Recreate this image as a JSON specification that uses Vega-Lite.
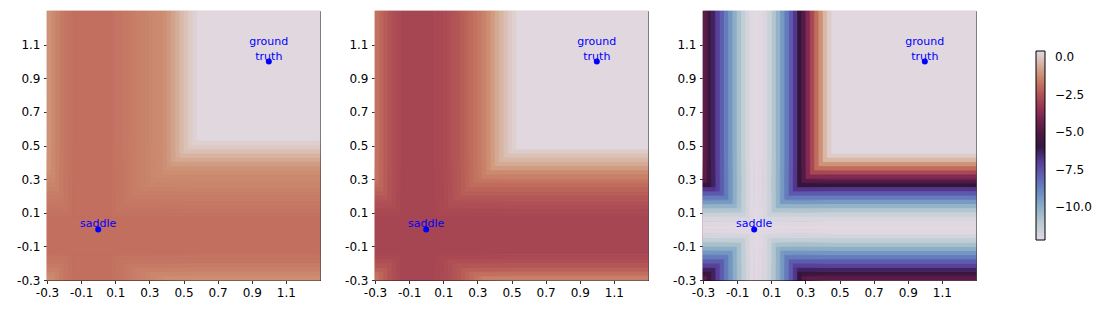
{
  "$schema": "https://vega.github.io/schema/vega-lite/v6.json",
  "padding": {"left": 16, "top": 10, "right": 5, "bottom": 5},
  "data": {"values": [
    {"p":1,"x":-0.3,"x2":-0.275,"y":-0.3,"y2":1.3,"v":-1.1},
    {"p":1,"x":-0.275,"x2":-0.25,"y":-0.3,"y2":1.3,"v":-1.3},
    {"p":1,"x":-0.25,"x2":-0.225,"y":-0.3,"y2":1.3,"v":-1.45},
    {"p":1,"x":-0.225,"x2":-0.2,"y":-0.3,"y2":1.3,"v":-1.6},
    {"p":1,"x":-0.2,"x2":-0.175,"y":-0.3,"y2":1.3,"v":-1.7},
    {"p":1,"x":-0.175,"x2":-0.15,"y":-0.3,"y2":1.3,"v":-1.8},
    {"p":1,"x":-0.15,"x2":0.075,"y":-0.3,"y2":1.3,"v":-1.85},
    {"p":1,"x":0.075,"x2":0.1,"y":-0.3,"y2":1.3,"v":-1.8},
    {"p":1,"x":0.1,"x2":0.125,"y":-0.3,"y2":1.3,"v":-1.75},
    {"p":1,"x":0.125,"x2":0.15,"y":-0.3,"y2":1.3,"v":-1.7},
    {"p":1,"x":0.15,"x2":0.175,"y":-0.3,"y2":1.3,"v":-1.65},
    {"p":1,"x":0.175,"x2":0.2,"y":-0.3,"y2":1.3,"v":-1.6},
    {"p":1,"x":0.2,"x2":0.225,"y":-0.3,"y2":1.3,"v":-1.55},
    {"p":1,"x":0.225,"x2":0.25,"y":-0.3,"y2":1.3,"v":-1.5},
    {"p":1,"x":0.25,"x2":0.275,"y":-0.3,"y2":1.3,"v":-1.45},
    {"p":1,"x":0.275,"x2":0.3,"y":-0.3,"y2":1.3,"v":-1.4},
    {"p":1,"x":0.3,"x2":0.325,"y":-0.3,"y2":1.3,"v":-1.35},
    {"p":1,"x":0.325,"x2":0.35,"y":-0.3,"y2":1.3,"v":-1.3},
    {"p":1,"x":0.35,"x2":0.375,"y":-0.3,"y2":1.3,"v":-1.25},
    {"p":1,"x":0.375,"x2":0.4,"y":-0.3,"y2":1.3,"v":-1.15},
    {"p":1,"x":0.4,"x2":0.425,"y":-0.3,"y2":1.3,"v":-1.0},
    {"p":1,"x":0.425,"x2":0.45,"y":-0.3,"y2":1.3,"v":-0.8},
    {"p":1,"x":0.45,"x2":0.475,"y":-0.3,"y2":1.3,"v":-0.6},
    {"p":1,"x":0.475,"x2":0.5,"y":-0.3,"y2":1.3,"v":-0.35},
    {"p":1,"x":0.5,"x2":0.525,"y":-0.3,"y2":1.3,"v":-0.15},
    {"p":1,"x":0.525,"x2":0.55,"y":-0.3,"y2":1.3,"v":0.05},
    {"p":1,"x":0.55,"x2":0.575,"y":-0.3,"y2":1.3,"v":0.2},
    {"p":1,"x":0.575,"x2":1.3,"y":-0.3,"y2":1.3,"v":0.35},
    {"p":1,"y":-0.3,"y2":-0.275,"x":-0.3,"x2":1.3,"v":-1.2},
    {"p":1,"y":-0.275,"y2":-0.25,"x":-0.3,"x2":1.3,"v":-1.35},
    {"p":1,"y":-0.25,"y2":-0.225,"x":-0.3,"x2":1.3,"v":-1.5},
    {"p":1,"y":-0.225,"y2":-0.2,"x":-0.3,"x2":1.3,"v":-1.6},
    {"p":1,"y":-0.2,"y2":-0.175,"x":-0.3,"x2":1.3,"v":-1.7},
    {"p":1,"y":-0.175,"y2":-0.15,"x":-0.3,"x2":1.3,"v":-1.75},
    {"p":1,"y":-0.15,"y2":0.075,"x":-0.3,"x2":1.3,"v":-1.85},
    {"p":1,"y":0.075,"y2":0.1,"x":-0.3,"x2":1.3,"v":-1.8},
    {"p":1,"y":0.1,"y2":0.125,"x":-0.3,"x2":1.3,"v":-1.75},
    {"p":1,"y":0.125,"y2":0.15,"x":-0.3,"x2":1.3,"v":-1.7},
    {"p":1,"y":0.15,"y2":0.175,"x":-0.3,"x2":1.3,"v":-1.65},
    {"p":1,"y":0.175,"y2":0.2,"x":-0.3,"x2":1.3,"v":-1.6},
    {"p":1,"y":0.2,"y2":0.225,"x":-0.3,"x2":1.3,"v":-1.55},
    {"p":1,"y":0.225,"y2":0.25,"x":-0.3,"x2":1.3,"v":-1.45},
    {"p":1,"y":0.25,"y2":0.275,"x":-0.3,"x2":1.3,"v":-1.4},
    {"p":1,"y":0.275,"y2":0.3,"x":-0.3,"x2":1.3,"v":-1.35},
    {"p":1,"y":0.3,"y2":0.325,"x":-0.3,"x2":1.3,"v":-1.3},
    {"p":1,"y":0.325,"y2":0.35,"x":-0.3,"x2":1.3,"v":-1.2},
    {"p":1,"y":0.35,"y2":0.375,"x":-0.3,"x2":1.3,"v":-1.1},
    {"p":1,"y":0.375,"y2":0.4,"x":-0.3,"x2":1.3,"v":-0.95},
    {"p":1,"y":0.4,"y2":0.425,"x":-0.3,"x2":1.3,"v":-0.7},
    {"p":1,"y":0.425,"y2":0.45,"x":-0.3,"x2":1.3,"v":-0.45},
    {"p":1,"y":0.45,"y2":0.475,"x":-0.3,"x2":1.3,"v":-0.2},
    {"p":1,"y":0.475,"y2":0.5,"x":-0.3,"x2":1.3,"v":0.0},
    {"p":1,"y":0.5,"y2":0.525,"x":-0.3,"x2":1.3,"v":0.15},
    {"p":1,"y":0.525,"y2":1.3,"x":-0.3,"x2":1.3,"v":0.35},

    {"p":2,"x":-0.3,"x2":-0.275,"y":-0.3,"y2":1.3,"v":-1.8},
    {"p":2,"x":-0.275,"x2":-0.25,"y":-0.3,"y2":1.3,"v":-2.05},
    {"p":2,"x":-0.25,"x2":-0.225,"y":-0.3,"y2":1.3,"v":-2.3},
    {"p":2,"x":-0.225,"x2":-0.2,"y":-0.3,"y2":1.3,"v":-2.5},
    {"p":2,"x":-0.2,"x2":-0.175,"y":-0.3,"y2":1.3,"v":-2.65},
    {"p":2,"x":-0.175,"x2":-0.15,"y":-0.3,"y2":1.3,"v":-2.75},
    {"p":2,"x":-0.15,"x2":0.05,"y":-0.3,"y2":1.3,"v":-2.85},
    {"p":2,"x":0.05,"x2":0.075,"y":-0.3,"y2":1.3,"v":-2.8},
    {"p":2,"x":0.075,"x2":0.1,"y":-0.3,"y2":1.3,"v":-2.75},
    {"p":2,"x":0.1,"x2":0.125,"y":-0.3,"y2":1.3,"v":-2.7},
    {"p":2,"x":0.125,"x2":0.15,"y":-0.3,"y2":1.3,"v":-2.6},
    {"p":2,"x":0.15,"x2":0.175,"y":-0.3,"y2":1.3,"v":-2.5},
    {"p":2,"x":0.175,"x2":0.2,"y":-0.3,"y2":1.3,"v":-2.4},
    {"p":2,"x":0.2,"x2":0.225,"y":-0.3,"y2":1.3,"v":-2.25},
    {"p":2,"x":0.225,"x2":0.25,"y":-0.3,"y2":1.3,"v":-2.1},
    {"p":2,"x":0.25,"x2":0.275,"y":-0.3,"y2":1.3,"v":-1.95},
    {"p":2,"x":0.275,"x2":0.3,"y":-0.3,"y2":1.3,"v":-1.8},
    {"p":2,"x":0.3,"x2":0.325,"y":-0.3,"y2":1.3,"v":-1.65},
    {"p":2,"x":0.325,"x2":0.35,"y":-0.3,"y2":1.3,"v":-1.45},
    {"p":2,"x":0.35,"x2":0.375,"y":-0.3,"y2":1.3,"v":-1.2},
    {"p":2,"x":0.375,"x2":0.4,"y":-0.3,"y2":1.3,"v":-0.95},
    {"p":2,"x":0.4,"x2":0.425,"y":-0.3,"y2":1.3,"v":-0.7},
    {"p":2,"x":0.425,"x2":0.45,"y":-0.3,"y2":1.3,"v":-0.45},
    {"p":2,"x":0.45,"x2":0.475,"y":-0.3,"y2":1.3,"v":-0.2},
    {"p":2,"x":0.475,"x2":0.5,"y":-0.3,"y2":1.3,"v":0.0},
    {"p":2,"x":0.5,"x2":0.525,"y":-0.3,"y2":1.3,"v":0.15},
    {"p":2,"x":0.525,"x2":1.3,"y":-0.3,"y2":1.3,"v":0.35},
    {"p":2,"y":-0.3,"y2":-0.275,"x":-0.3,"x2":1.3,"v":-1.5},
    {"p":2,"y":-0.275,"y2":-0.25,"x":-0.3,"x2":1.3,"v":-1.85},
    {"p":2,"y":-0.25,"y2":-0.225,"x":-0.3,"x2":1.3,"v":-2.2},
    {"p":2,"y":-0.225,"y2":-0.2,"x":-0.3,"x2":1.3,"v":-2.45},
    {"p":2,"y":-0.2,"y2":-0.175,"x":-0.3,"x2":1.3,"v":-2.6},
    {"p":2,"y":-0.175,"y2":-0.15,"x":-0.3,"x2":1.3,"v":-2.75},
    {"p":2,"y":-0.15,"y2":0.075,"x":-0.3,"x2":1.3,"v":-2.85},
    {"p":2,"y":0.075,"y2":0.1,"x":-0.3,"x2":1.3,"v":-2.8},
    {"p":2,"y":0.1,"y2":0.125,"x":-0.3,"x2":1.3,"v":-2.75},
    {"p":2,"y":0.125,"y2":0.15,"x":-0.3,"x2":1.3,"v":-2.65},
    {"p":2,"y":0.15,"y2":0.175,"x":-0.3,"x2":1.3,"v":-2.55},
    {"p":2,"y":0.175,"y2":0.2,"x":-0.3,"x2":1.3,"v":-2.4},
    {"p":2,"y":0.2,"y2":0.225,"x":-0.3,"x2":1.3,"v":-2.25},
    {"p":2,"y":0.225,"y2":0.25,"x":-0.3,"x2":1.3,"v":-2.1},
    {"p":2,"y":0.25,"y2":0.275,"x":-0.3,"x2":1.3,"v":-1.95},
    {"p":2,"y":0.275,"y2":0.3,"x":-0.3,"x2":1.3,"v":-1.75},
    {"p":2,"y":0.3,"y2":0.325,"x":-0.3,"x2":1.3,"v":-1.5},
    {"p":2,"y":0.325,"y2":0.35,"x":-0.3,"x2":1.3,"v":-1.25},
    {"p":2,"y":0.35,"y2":0.375,"x":-0.3,"x2":1.3,"v":-0.95},
    {"p":2,"y":0.375,"y2":0.4,"x":-0.3,"x2":1.3,"v":-0.65},
    {"p":2,"y":0.4,"y2":0.425,"x":-0.3,"x2":1.3,"v":-0.4},
    {"p":2,"y":0.425,"y2":0.45,"x":-0.3,"x2":1.3,"v":-0.15},
    {"p":2,"y":0.45,"y2":0.475,"x":-0.3,"x2":1.3,"v":0.1},
    {"p":2,"y":0.475,"y2":1.3,"x":-0.3,"x2":1.3,"v":0.35},

    {"p":3,"x":-0.3,"x2":-0.275,"y":-0.3,"y2":1.3,"v":-4.7},
    {"p":3,"x":-0.275,"x2":-0.25,"y":-0.3,"y2":1.3,"v":-5.5},
    {"p":3,"x":-0.25,"x2":-0.225,"y":-0.3,"y2":1.3,"v":-6.3},
    {"p":3,"x":-0.225,"x2":-0.2,"y":-0.3,"y2":1.3,"v":-7.1},
    {"p":3,"x":-0.2,"x2":-0.175,"y":-0.3,"y2":1.3,"v":-7.8},
    {"p":3,"x":-0.175,"x2":-0.15,"y":-0.3,"y2":1.3,"v":-8.6},
    {"p":3,"x":-0.15,"x2":-0.125,"y":-0.3,"y2":1.3,"v":-9.3},
    {"p":3,"x":-0.125,"x2":-0.1,"y":-0.3,"y2":1.3,"v":-10.0},
    {"p":3,"x":-0.1,"x2":-0.075,"y":-0.3,"y2":1.3,"v":-10.7},
    {"p":3,"x":-0.075,"x2":-0.05,"y":-0.3,"y2":1.3,"v":-11.3},
    {"p":3,"x":-0.05,"x2":-0.025,"y":-0.3,"y2":1.3,"v":-11.8},
    {"p":3,"x":-0.025,"x2":0.0,"y":-0.3,"y2":1.3,"v":-12.1},
    {"p":3,"x":0.0,"x2":0.025,"y":-0.3,"y2":1.3,"v":-12.2},
    {"p":3,"x":0.025,"x2":0.05,"y":-0.3,"y2":1.3,"v":-12.1},
    {"p":3,"x":0.05,"x2":0.075,"y":-0.3,"y2":1.3,"v":-11.9},
    {"p":3,"x":0.075,"x2":0.1,"y":-0.3,"y2":1.3,"v":-11.5},
    {"p":3,"x":0.1,"x2":0.125,"y":-0.3,"y2":1.3,"v":-10.9},
    {"p":3,"x":0.125,"x2":0.15,"y":-0.3,"y2":1.3,"v":-10.2},
    {"p":3,"x":0.15,"x2":0.175,"y":-0.3,"y2":1.3,"v":-9.4},
    {"p":3,"x":0.175,"x2":0.2,"y":-0.3,"y2":1.3,"v":-8.6},
    {"p":3,"x":0.2,"x2":0.225,"y":-0.3,"y2":1.3,"v":-7.7},
    {"p":3,"x":0.225,"x2":0.25,"y":-0.3,"y2":1.3,"v":-6.8},
    {"p":3,"x":0.25,"x2":0.275,"y":-0.3,"y2":1.3,"v":-5.8},
    {"p":3,"x":0.275,"x2":0.3,"y":-0.3,"y2":1.3,"v":-4.8},
    {"p":3,"x":0.3,"x2":0.325,"y":-0.3,"y2":1.3,"v":-3.8},
    {"p":3,"x":0.325,"x2":0.35,"y":-0.3,"y2":1.3,"v":-2.8},
    {"p":3,"x":0.35,"x2":0.375,"y":-0.3,"y2":1.3,"v":-1.9},
    {"p":3,"x":0.375,"x2":0.4,"y":-0.3,"y2":1.3,"v":-1.1},
    {"p":3,"x":0.4,"x2":0.425,"y":-0.3,"y2":1.3,"v":-0.4},
    {"p":3,"x":0.425,"x2":0.45,"y":-0.3,"y2":1.3,"v":0.1},
    {"p":3,"x":0.45,"x2":1.3,"y":-0.3,"y2":1.3,"v":0.35},
    {"p":3,"y":-0.3,"y2":-0.275,"x":-0.3,"x2":1.3,"v":-4.7},
    {"p":3,"y":-0.275,"y2":-0.25,"x":-0.3,"x2":1.3,"v":-5.5},
    {"p":3,"y":-0.25,"y2":-0.225,"x":-0.3,"x2":1.3,"v":-6.3},
    {"p":3,"y":-0.225,"y2":-0.2,"x":-0.3,"x2":1.3,"v":-7.1},
    {"p":3,"y":-0.2,"y2":-0.175,"x":-0.3,"x2":1.3,"v":-7.8},
    {"p":3,"y":-0.175,"y2":-0.15,"x":-0.3,"x2":1.3,"v":-8.6},
    {"p":3,"y":-0.15,"y2":-0.125,"x":-0.3,"x2":1.3,"v":-9.3},
    {"p":3,"y":-0.125,"y2":-0.1,"x":-0.3,"x2":1.3,"v":-10.0},
    {"p":3,"y":-0.1,"y2":-0.075,"x":-0.3,"x2":1.3,"v":-10.7},
    {"p":3,"y":-0.075,"y2":-0.05,"x":-0.3,"x2":1.3,"v":-11.3},
    {"p":3,"y":-0.05,"y2":-0.025,"x":-0.3,"x2":1.3,"v":-11.8},
    {"p":3,"y":-0.025,"y2":0.0,"x":-0.3,"x2":1.3,"v":-12.1},
    {"p":3,"y":0.0,"y2":0.025,"x":-0.3,"x2":1.3,"v":-12.2},
    {"p":3,"y":0.025,"y2":0.05,"x":-0.3,"x2":1.3,"v":-12.1},
    {"p":3,"y":0.05,"y2":0.075,"x":-0.3,"x2":1.3,"v":-11.9},
    {"p":3,"y":0.075,"y2":0.1,"x":-0.3,"x2":1.3,"v":-11.5},
    {"p":3,"y":0.1,"y2":0.125,"x":-0.3,"x2":1.3,"v":-10.9},
    {"p":3,"y":0.125,"y2":0.15,"x":-0.3,"x2":1.3,"v":-10.2},
    {"p":3,"y":0.15,"y2":0.175,"x":-0.3,"x2":1.3,"v":-9.4},
    {"p":3,"y":0.175,"y2":0.2,"x":-0.3,"x2":1.3,"v":-8.6},
    {"p":3,"y":0.2,"y2":0.225,"x":-0.3,"x2":1.3,"v":-7.7},
    {"p":3,"y":0.225,"y2":0.25,"x":-0.3,"x2":1.3,"v":-6.8},
    {"p":3,"y":0.25,"y2":0.275,"x":-0.3,"x2":1.3,"v":-5.8},
    {"p":3,"y":0.275,"y2":0.3,"x":-0.3,"x2":1.3,"v":-4.8},
    {"p":3,"y":0.3,"y2":0.325,"x":-0.3,"x2":1.3,"v":-3.8},
    {"p":3,"y":0.325,"y2":0.35,"x":-0.3,"x2":1.3,"v":-2.8},
    {"p":3,"y":0.35,"y2":0.375,"x":-0.3,"x2":1.3,"v":-1.9},
    {"p":3,"y":0.375,"y2":0.4,"x":-0.3,"x2":1.3,"v":-1.1},
    {"p":3,"y":0.4,"y2":0.425,"x":-0.3,"x2":1.3,"v":-0.4},
    {"p":3,"y":0.425,"y2":0.45,"x":-0.3,"x2":1.3,"v":0.1},
    {"p":3,"y":0.45,"y2":1.3,"x":-0.3,"x2":1.3,"v":0.35},

    {"p":1,"mx":0,"my":0,"lab":"saddle"},
    {"p":1,"mx":1,"my":1,"lab":"ground\ntruth"},
    {"p":2,"mx":0,"my":0,"lab":"saddle"},
    {"p":2,"mx":1,"my":1,"lab":"ground\ntruth"},
    {"p":3,"mx":0,"my":0,"lab":"saddle"},
    {"p":3,"mx":1,"my":1,"lab":"ground\ntruth"}
  ]},
  "facet": {"column": {"field": "p", "type": "ordinal", "title": null, "header": {"labels": false, "title": null}}},
  "spacing": 55,
  "bounds": "flush",
  "resolve": {"axis": {"y": "independent"}},
  "spec": {
    "width": 273,
    "height": 269,
    "layer": [
      {
        "transform": [{"filter": "!isValid(datum.lab)"}],
        "mark": {"type": "rect", "strokeWidth": 0.7, "stroke": {"expr": "scale('fill', datum.v)"}},
        "encoding": {
          "x": {"field": "x", "type": "quantitative",
                "scale": {"domain": [-0.3, 1.3], "nice": false, "zero": false},
                "axis": {"values": [-0.3,-0.1,0.1,0.3,0.5,0.7,0.9,1.1], "tickCount": 20, "labelOverlap": false, "labelBound": false, "labelFlush": false,
                         "labelExpr": "datum.value < 0 ? '-' + format(-datum.value, '.1f') : format(datum.value, '.1f')"}},
          "x2": {"field": "x2"},
          "y": {"field": "y", "type": "quantitative",
                "scale": {"domain": [-0.3, 1.3], "nice": false, "zero": false},
                "axis": {"values": [-0.3,-0.1,0.1,0.3,0.5,0.7,0.9,1.1], "tickCount": 20, "labelOverlap": false, "labelBound": false, "labelFlush": false,
                         "labelExpr": "datum.value < 0 ? '-' + format(-datum.value, '.1f') : format(datum.value, '.1f')"}},
          "y2": {"field": "y2"},
          "fill": {"field": "v", "type": "quantitative",
                   "scale": {"domain": [-12.2,-11.4125,-10.625,-9.8375,-9.05,-8.2625,-7.475,-6.6875,-5.9,-5.1125,-4.325,-3.5375,-2.75,-1.9625,-1.175,-0.3875,0.4],
                             "range": ["#e2d9e2","#c7d0d8","#a6bfcb","#86a9c6","#6b8dc0","#5f70b9","#5b50a9","#52318a","#30143a","#4a183f","#6c1e50","#8e2e56","#ab4953","#c06a5c","#cd8f72","#d8b8a6","#e2d9e2"],
                             "interpolate": "rgb"},
                   "legend": {"type": "gradient", "orient": "none", "direction": "vertical", "legendX": 989, "legendY": 40,
                              "title": null, "values": [0, -2.5, -5, -7.5, -10],
                              "labelExpr": "datum.value < 0 ? '\u2212' + format(-datum.value, '.1f') : format(datum.value, '.1f')",
                              "gradientLength": 189, "gradientThickness": 9,
                              "gradientStrokeColor": "black", "gradientStrokeWidth": 1,
                              "labelFontSize": 12, "labelFont": "DejaVu Sans", "labelColor": "black",
                              "labelOffset": 10, "labelOverlap": false}},
          "order": {"field": "v", "sort": "descending"}
        }
      },
      {
        "transform": [{"filter": "isValid(datum.lab)"}],
        "mark": {"type": "point", "filled": true, "size": 36, "color": "#0000ff", "opacity": 1},
        "encoding": {
          "x": {"field": "mx", "type": "quantitative"},
          "y": {"field": "my", "type": "quantitative"}
        }
      },
      {
        "transform": [{"filter": "datum.lab == 'saddle'"}],
        "mark": {"type": "text", "color": "#0000ff", "fontSize": 11, "font": "DejaVu Sans", "baseline": "alphabetic", "dy": -2.5},
        "encoding": {
          "x": {"field": "mx", "type": "quantitative"},
          "y": {"field": "my", "type": "quantitative"},
          "text": {"field": "lab"}
        }
      },
      {
        "transform": [{"filter": "isValid(datum.lab) && datum.lab != 'saddle'"}],
        "mark": {"type": "text", "color": "#0000ff", "fontSize": 11, "font": "DejaVu Sans", "baseline": "alphabetic", "lineBreak": "\n", "lineHeight": 14.6, "dy": -16.5},
        "encoding": {
          "x": {"field": "mx", "type": "quantitative"},
          "y": {"field": "my", "type": "quantitative"},
          "text": {"field": "lab"}
        }
      }
    ]
  },
  "config": {
    "view": {"stroke": "black", "strokeWidth": 1},
    "axis": {"domain": false, "grid": false, "title": null, "tickColor": "black", "tickSize": 3.5, "tickWidth": 0.8,
             "labelFontSize": 12, "labelFont": "DejaVu Sans", "labelColor": "black", "labelPadding": 3.5,
             "labelAngle": 0, "labelFlush": false, "labelOverlap": false},
    "header": {"labels": false, "title": null}
  }
}
